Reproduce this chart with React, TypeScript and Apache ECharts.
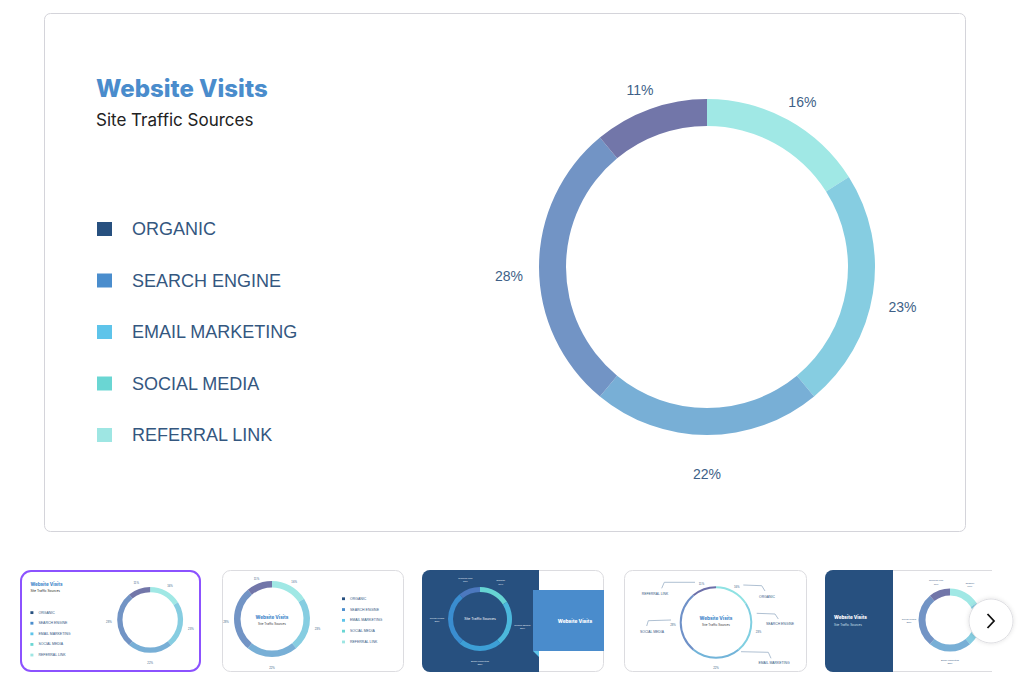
import React, { useEffect, useRef } from "react";
import * as echarts from "echarts";

// ---- data ----
const categories = ["Organic", "Search Engine", "Email Marketing", "Social Media", "Referral Link"];
const shares = [16, 23, 22, 28, 11];
const sliceColors = ["#a0e8e5", "#86cde1", "#78afd6", "#7294c5", "#7276a9"];
const legendColors = ["#27507f", "#4a8dcd", "#5ec4ea", "#6ad6d3", "#9ee6e3"];
const darkSliceColors = ["#66d4d3", "#4cb8dc", "#3d9fd6", "#3a8dd0", "#4c78bf"];
const thinSliceColors = ["#8fe2e3", "#80cfe1", "#72b4d9", "#6f91c8", "#6c6fa9"];
const titleText = "Website Visits";
const subtitleText = "Site Traffic Sources";

const LABEL = "#3e5f87";
const LEGEND_TEXT = "#34577f";
const BLUE = "#4a8ccc";
const DARK = "#27507f";

const pieData = (colors?: string[]) =>
  categories.map((name, i) => ({
    name,
    value: shares[i],
    itemStyle: { color: colors ? colors[i] : "rgba(0,0,0,0)" },
  }));

function ring(id: string, center: number[], radius: number[], colors: string[]) {
  return {
    id,
    type: "pie",
    center,
    radius,
    startAngle: 90,
    clockwise: true,
    silent: true,
    avoidLabelOverlap: false,
    label: { show: false },
    labelLine: { show: false },
    emphasis: { disabled: true },
    itemStyle: { borderWidth: 0 },
    data: pieData(colors),
  };
}

function labelRing(id: string, center: number[], radius: number[], style: any, formatter: any) {
  return {
    id,
    type: "pie",
    center,
    radius,
    startAngle: 90,
    clockwise: true,
    silent: true,
    avoidLabelOverlap: false,
    legendHoverLink: false,
    label: {
      show: true,
      position: "inside",
      formatter,
      textBorderWidth: 0,
      ...style,
    },
    labelLine: { show: false },
    emphasis: { disabled: true },
    itemStyle: { borderWidth: 0 },
    data: pieData(),
  };
}

const pct = (p: any) => `${p.value}%`;
const namePct = (p: any) => `${p.name}\n${p.value}%`;

function legendBlock(left: number, top: number, w: number, h: number, gap: number, fontSize: number, pad: number, family: string) {
  return {
    orient: "vertical",
    left,
    top,
    padding: 0,
    itemWidth: w,
    itemHeight: h,
    itemGap: gap,
    icon: "rect",
    selectedMode: false,
    formatter: (n: string) => n.toUpperCase(),
    textStyle: {
      fontSize,
      lineHeight: fontSize,
      fontFamily: family,
      color: LEGEND_TEXT,
      padding: [0, 0, 0, pad],
    },
    data: categories.map((name, i) => ({
      name,
      icon: "rect",
      itemStyle: { color: legendColors[i], borderWidth: 0 },
    })),
  };
}

function txt(x: number, y: number, text: string, size: number, fill: string, opts: any = {}) {
  const align = opts.align || "left";
  const v = opts.v || "middle";
  return {
    type: "text",
    x,
    y,
    z: opts.z ?? 5,
    silent: true,
    style: {
      text,
      fontSize: size,
      fontWeight: opts.weight || "normal",
      fontFamily: opts.family || "Inter",
      fill,
      align,
      textAlign: align,
      verticalAlign: v,
      textVerticalAlign: v,
    },
  };
}

function card(x: number, y: number, w: number, h: number, r: any, fill: string, stroke: string, lw = 1, z = 0) {
  return {
    type: "rect",
    z,
    silent: true,
    shape: { x, y, width: w, height: h, r },
    style: { fill, stroke, lineWidth: lw },
  };
}

function line(points: number[][], color = "#9ab0c6", lw = 0.8) {
  return {
    type: "polyline",
    z: 5,
    silent: true,
    shape: { points },
    style: { stroke: color, lineWidth: lw, fill: "none" },
  };
}

// thumbnail 1 is the main card scaled
const S = 0.1963;
const tx = (x: number) => 20 + (x - 44) * S;
const ty = (y: number) => 570 + (y - 13) * S;

export default function App() {
  const ref = useRef<HTMLDivElement>(null);

  useEffect(() => {
    if (!ref.current) return;
    const chart = echarts.init(ref.current, undefined, { renderer: "svg" });

    const graphic: any[] = [
      // main card
      card(44.5, 13.5, 921, 518, 6, "#ffffff", "#d4d4da"),

      // thumb 1 (selected)
      card(21, 571, 179, 100, 10, "#ffffff", "#8c52ff", 2),
      txt(tx(97), ty(88), titleText, 4.5, BLUE, { weight: 800 }),
      txt(tx(97), ty(119), subtitleText, 3.2, "#222"),

      // thumb 2
      card(222.5, 570.5, 181, 101, 8, "#ffffff", "#dcdce0"),
      txt(272, 617, titleText, 4.6, BLUE, { weight: 800, align: "center" }),
      txt(272, 623.5, subtitleText, 3, "#333", { align: "center" }),

      // thumb 3
      card(422.5, 570.5, 181, 101, 8, "#ffffff", "#dcdce0"),
      card(422, 570, 117, 102, [8, 0, 0, 8], DARK, "none", 0, 1),
      txt(480, 619, subtitleText, 3.4, "#ffffff", { align: "center" }),
      card(533, 590, 71, 61, 0, BLUE, "none", 0, 1),
      {
        type: "polygon",
        z: 1,
        silent: true,
        shape: { points: [[533, 651], [539, 651], [539, 657]] },
        style: { fill: "#5ec4ea" },
      },
      txt(575, 621, titleText, 4.8, "#ffffff", { weight: 800, align: "center" }),

      // thumb 4
      card(624.5, 570.5, 182, 101, 8, "#ffffff", "#dcdce0"),
      txt(716, 618.5, titleText, 4.6, BLUE, { weight: 800, align: "center" }),
      txt(716, 625, subtitleText, 3, "#333", { align: "center" }),
      txt(655, 594, "REFERRAL LINK", 3.4, LEGEND_TEXT, { align: "center", family: "Liberation Sans" }),
      txt(767, 597, "ORGANIC", 3.4, LEGEND_TEXT, { align: "center", family: "Liberation Sans" }),
      txt(780, 624, "SEARCH ENGINE", 3.4, LEGEND_TEXT, { align: "center", family: "Liberation Sans" }),
      txt(774, 663, "EMAIL MARKETING", 3.4, LEGEND_TEXT, { align: "center", family: "Liberation Sans" }),
      txt(652, 632, "SOCIAL MEDIA", 3.4, LEGEND_TEXT, { align: "center", family: "Liberation Sans" }),
      line([[661.7, 588.3], [664.3, 582.3], [695, 582.3]]),
      line([[743.3, 585], [761.7, 585.7], [765, 591]]),
      line([[756.7, 613.3], [775, 614], [778.3, 619]]),
      line([[741, 651.7], [768.3, 652.3], [771, 658.3]]),
      line([[646.7, 626], [648.3, 620.7], [671, 620]]),

      // thumb 5 (clipped)
      card(825.5, 570.5, 180, 101, 8, "#ffffff", "#dcdce0"),
      card(825, 570, 68, 102, [8, 0, 0, 8], DARK, "none", 0, 1),
      txt(834, 617.5, titleText, 4.6, "#ffffff", { weight: 800 }),
      txt(834, 625, subtitleText, 3, "#cfe0f0"),
      // mask right of the clip
      card(992, 560, 40, 120, 0, "#ffffff", "none", 0, 9),

      // next button
      {
        type: "circle",
        z: 10,
        silent: true,
        shape: { cx: 991, cy: 621, r: 22 },
        style: { fill: "#ffffff", stroke: "#dedee2", lineWidth: 1, shadowBlur: 4, shadowColor: "rgba(0,0,0,0.12)" },
      },
      {
        type: "polyline",
        z: 11,
        silent: true,
        shape: { points: [[987.5, 614], [994, 621], [987.5, 628]] },
        style: { stroke: "#111", lineWidth: 1.8, fill: "none" },
      },
    ];

    const option: any = {
      animation: false,
      backgroundColor: "#ffffff",
      title: {
        text: titleText,
        subtext: subtitleText,
        left: 96,
        top: 76,
        padding: 0,
        itemGap: 11,
        textStyle: { fontFamily: "Inter", fontWeight: 800, fontSize: 24, color: BLUE },
        subtextStyle: { fontFamily: "Inter", fontWeight: 400, fontSize: 17, color: "#222" },
      },
      legend: [
        legendBlock(97, 220, 15, 14, 33.5, 18, 15, "Liberation Sans"),
        legendBlock(tx(97), ty(220), 3, 2.8, 10.1 * 1 - 3.5, 3.5, 0, "Liberation Sans"),
        legendBlock(342, 596.75, 3, 2.8, 6.8, 3.5, 0, "Liberation Sans"),
      ],
      graphic,
      series: [
        // main
        ring("main", [707, 267], [141, 168], sliceColors),
        labelRing("mainLabels", [707, 267], [185, 205], { fontSize: 14, color: LABEL, fontFamily: "Liberation Sans", offset: [0, 9] }, pct),
        // thumb 1
        ring("t1", [tx(707), ty(267)], [141 * S, 168 * S], sliceColors),
        labelRing("t1Labels", [tx(707), ty(267)], [185 * S, 205 * S], { fontSize: 2.8, color: LABEL, fontFamily: "Liberation Sans", offset: [0, 1.8] }, pct),
        // thumb 2
        ring("t2", [272, 619], [31.5, 38], sliceColors),
        labelRing("t2Labels", [272, 619], [41, 45], { fontSize: 2.8, color: LABEL, fontFamily: "Liberation Sans", offset: [0, 2.5] }, pct),
        // thumb 3
        ring("t3", [480, 619], [27, 32], darkSliceColors),
        labelRing("t3Labels", [480, 619], [37, 43], { fontSize: 2.5, lineHeight: 3.2, color: "#e6eef7", fontFamily: "Liberation Sans", offset: [0, 1] }, namePct),
        // thumb 4
        ring("t4", [716, 622.5], [34.3, 36.3], thinSliceColors),
        labelRing("t4Labels", [716, 622.5], [38.5, 41.5], { fontSize: 2.8, color: LABEL, fontFamily: "Liberation Sans", offset: [0, 2] }, pct),
        // thumb 5
        ring("t5", [950, 620], [24.5, 31.5], sliceColors),
        labelRing("t5Labels", [950, 620], [35, 41], { fontSize: 2.5, lineHeight: 3.2, color: LABEL, fontFamily: "Liberation Sans", offset: [0, 1] }, namePct),
      ],
    };

    chart.setOption(option);
    return () => chart.dispose();
  }, []);

  return (
    <div
      ref={ref}
      style={{ position: "fixed", left: 0, top: 0, width: 1024, height: 698, background: "#fff" }}
    />
  );
}
